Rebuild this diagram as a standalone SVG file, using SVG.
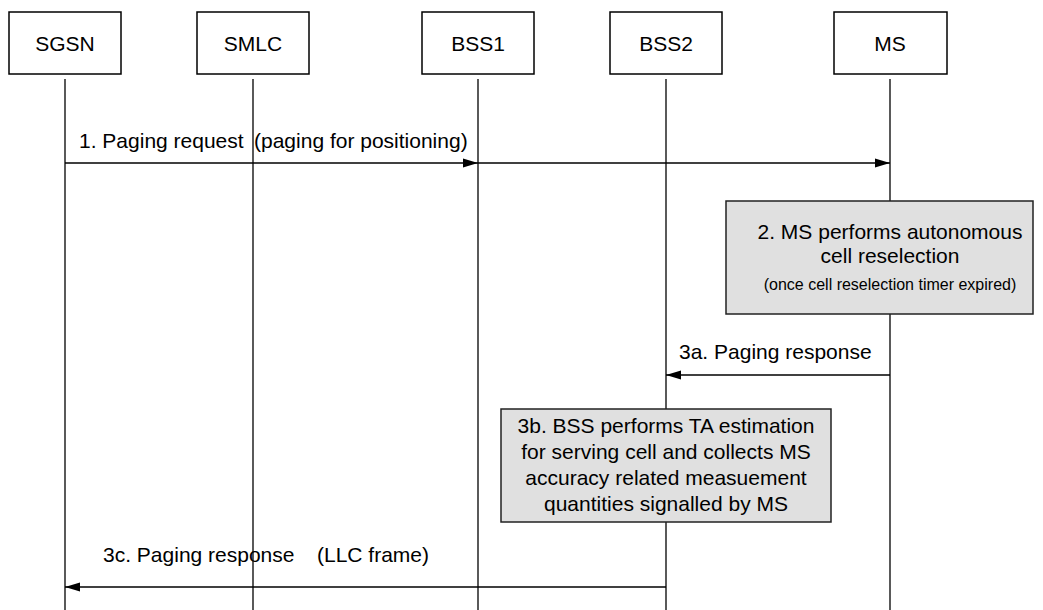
<svg xmlns="http://www.w3.org/2000/svg" width="1043" height="610" viewBox="0 0 1043 610">
<style>
.box{fill:#fff;stroke:#000;stroke-width:1.5}
.note{fill:#e0e0e0;stroke:#222;stroke-width:1.5}
.life{stroke:#000;stroke-width:1.3;fill:none}
.msg{stroke:#000;stroke-width:1.5;fill:none;marker-end:url(#ah)}
text{font-family:"Liberation Sans",Arial,sans-serif;font-size:21px;fill:#000}
.c{text-anchor:middle}
.s{font-size:16px}
</style>
<defs>
<marker id="ah" markerWidth="16" markerHeight="10" refX="15" refY="5" orient="auto" markerUnits="userSpaceOnUse">
<path d="M0,0.5 L15,5 L0,9.5 Z" fill="#000"/>
</marker>
</defs>
<g id="lifelines">
<line class="life" x1="65" y1="79" x2="65" y2="610"/>
<line class="life" x1="253" y1="79" x2="253" y2="610"/>
<line class="life" x1="478" y1="79" x2="478" y2="610"/>
<line class="life" x1="666" y1="79" x2="666" y2="610"/>
<line class="life" x1="890" y1="79" x2="890" y2="610"/>
</g>
<g id="SGSN"><rect class="box" x="9" y="12" width="112" height="62"/><text class="c" x="65" y="51">SGSN</text></g>
<g id="SMLC"><rect class="box" x="197" y="12" width="112" height="62"/><text class="c" x="253" y="51">SMLC</text></g>
<g id="BSS1"><rect class="box" x="422" y="12" width="112" height="62"/><text class="c" x="478" y="51">BSS1</text></g>
<g id="BSS2"><rect class="box" x="610" y="12" width="112" height="62"/><text class="c" x="666" y="51">BSS2</text></g>
<g id="MS"><rect class="box" x="834" y="12" width="113" height="62"/><text class="c" x="890" y="51">MS</text></g>
<g id="connectors">
<line class="msg" x1="65" y1="163" x2="478" y2="163"/>
<line class="msg" x1="478" y1="163" x2="890" y2="163"/>
<line class="msg" x1="890" y1="375" x2="666" y2="375"/>
<line class="msg" x1="666" y1="587" x2="65" y2="587"/>
</g>
<g id="labels">
<text x="79" y="148">1. Paging request</text>
<text x="254" y="148">(paging for positioning)</text>
<text x="679" y="359">3a. Paging response</text>
<text x="103" y="562">3c. Paging response</text>
<text x="317" y="562">(LLC frame)</text>
</g>
<g id="step2">
<rect class="note" x="726" y="201" width="307" height="113"/>
<text class="c" x="890" y="239">2. MS performs autonomous</text>
<text class="c" x="890" y="263">cell reselection</text>
<text class="c s" x="890" y="290">(once cell reselection timer expired)</text>
</g>
<g id="step3b">
<rect class="note" x="501" y="409" width="330" height="113"/>
<text class="c" x="666" y="433">3b. BSS performs TA estimation</text>
<text class="c" x="666" y="459">for serving cell and collects MS</text>
<text class="c" x="666" y="485">accuracy related measuement</text>
<text class="c" x="666" y="511">quantities signalled by MS</text>
</g>
</svg>
